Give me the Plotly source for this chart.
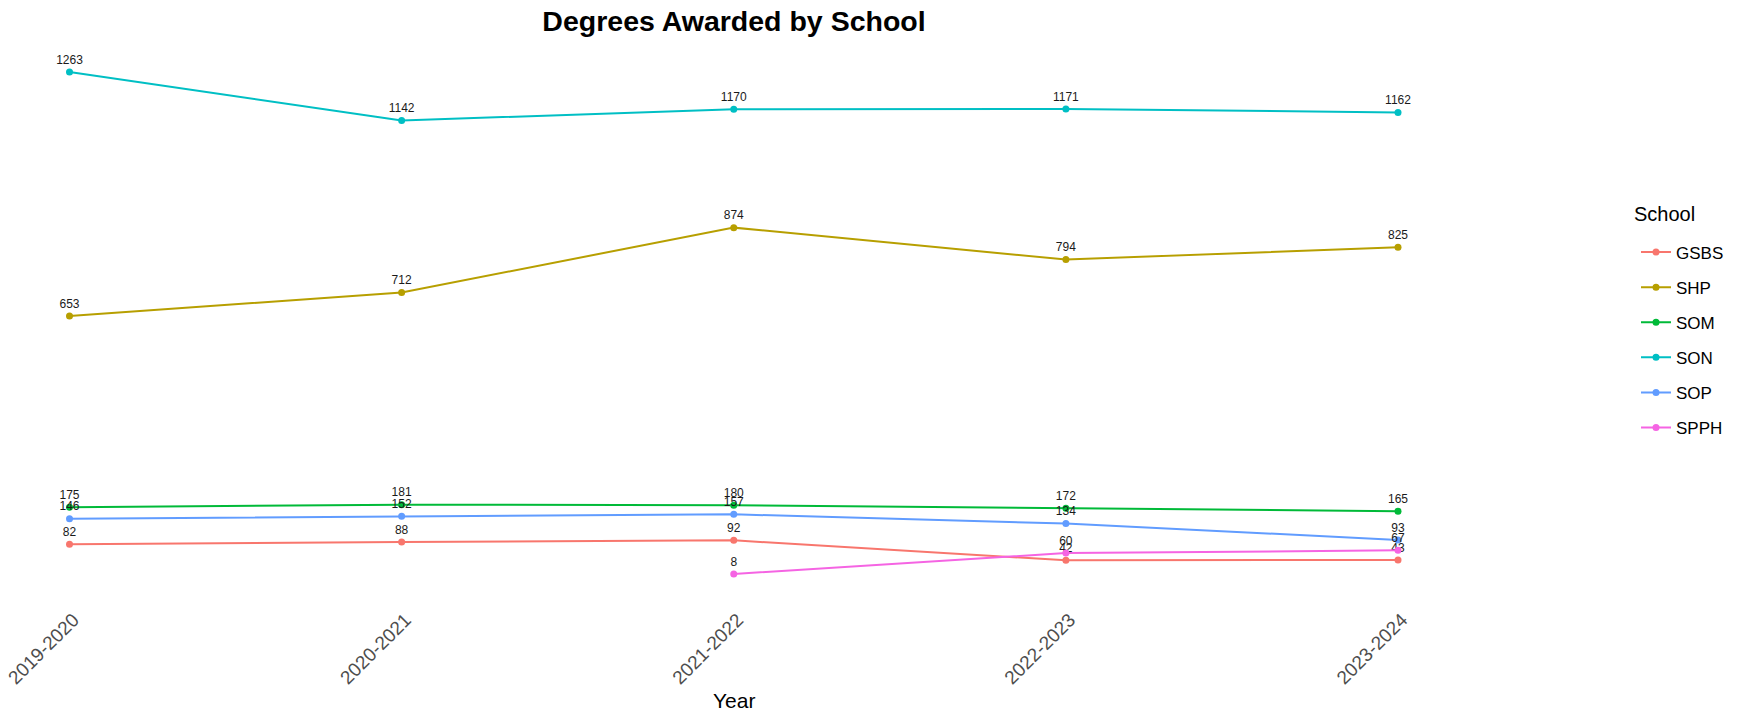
import plotly.graph_objects as go

years = ["2019-2020", "2020-2021", "2021-2022", "2022-2023", "2023-2024"]
schools = ["GSBS", "SHP", "SOM", "SON", "SOP", "SPPH"]
gsbs = [82, 88, 92, 42, 43]
shp = [653, 712, 874, 794, 825]
som = [175, 181, 180, 172, 165]
son = [1263, 1142, 1170, 1171, 1162]
sop = [146, 152, 157, 134, 93]
spph = [None, None, 8, 60, 67]
colors = ["#F8766D", "#B79F00", "#00BA38", "#00BFC4", "#619CFF", "#F564E3"]

series = [gsbs, shp, som, son, sop, spph]

W, H = 1754, 717
ml, mr, mt, mb = 20, 274, 47, 118
x0_px, x4_px = 69.5, 1398.0
unit = (x4_px - x0_px) / 4
plot_w = W - ml - mr
plot_h = H - mt - mb
xr = [-(x0_px - ml) / unit, 4 + ((W - mr) - x4_px) / unit]

vals = [v for s in series for v in s if v is not None]
lo, hi = min(vals), max(vals)
pad = 0.05 * (hi - lo)
yr = [lo - pad, hi + pad]

fig = go.Figure()
for name, s, c in zip(schools, series, colors):
    fig.add_trace(go.Scatter(
        x=years, y=s, name=name, mode="lines+markers+text",
        line=dict(color=c, width=2),
        marker=dict(color=c, size=7),
        text=["" if v is None else str(v) for v in s],
        textposition="top center",
        textfont=dict(family="Liberation Sans, Arial", size=12, color="#1a1a1a"),
        legendgroup=name,
    ))

fig.update_layout(
    width=W, height=H,
    margin=dict(l=ml, r=mr, t=mt, b=mb, autoexpand=False),
    paper_bgcolor="white", plot_bgcolor="white",
    font=dict(family="Liberation Sans, Arial"),
    title=dict(text="<b>Degrees Awarded by School</b>", xref="container", x=734 / W,
               xanchor="center", yref="container", y=1 - 21 / H, yanchor="middle",
               font=dict(size=28.5, color="black")),
    xaxis=dict(type="category", range=xr, showgrid=False, zeroline=False,
               showline=False, ticks="", tickangle=-45, automargin=False,
               ticklabelstandoff=5, ticklabelshift=4,
               tickfont=dict(size=19, color="#4d4d4d")),
    yaxis=dict(range=yr, visible=False, showgrid=False, zeroline=False,
               automargin=False),
    showlegend=True,
    legend=dict(font=dict(size=17, color="black"),
                xref="container", yref="container",
                x=1636 / W, xanchor="left", y=1 - 234.5 / H, yanchor="top",
                itemwidth=30, tracegroupgap=10, traceorder="grouped",
                bgcolor="rgba(0,0,0,0)"),
    annotations=[
        dict(text="Year", xref="paper", yref="paper",
             x=(734 - ml) / plot_w, y=((H - mb) - 700) / plot_h,
             xanchor="center", yanchor="middle",
             showarrow=False, font=dict(size=21, color="black")),
        dict(text="School", xref="paper", yref="paper",
             x=(1632 - ml) / plot_w, y=((H - mb) - 214) / plot_h,
             xanchor="left", yanchor="middle",
             showarrow=False, font=dict(size=20, color="black")),
    ],
)

fig.write_html("out.html", config={"displayModeBar": False},
               post_script="document.body.style.margin='0px';")
